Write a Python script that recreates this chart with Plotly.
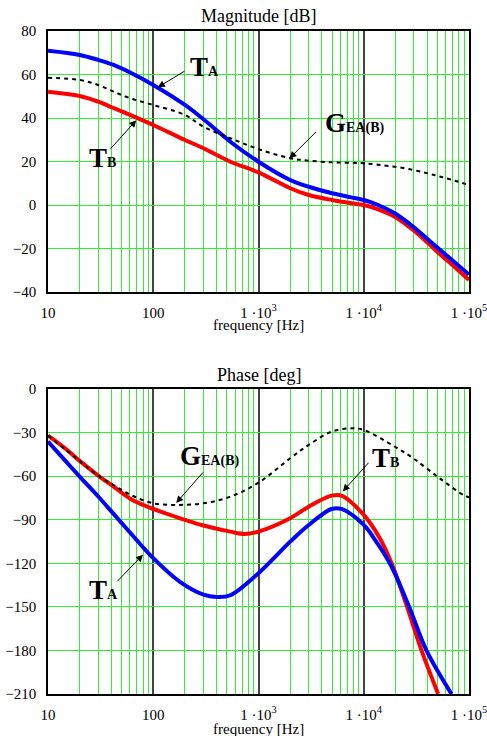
import numpy as np
import plotly.graph_objects as go
from plotly.subplots import make_subplots

# ---------------- data ----------------
freq_m = [10, 20, 30, 42, 61, 100, 200, 300, 540, 1000, 2000, 3000, 5000, 7650, 10000,
          13700, 19700, 29500, 41000, 52700, 73000, 100000]
mag_TA = [70.9, 69.0, 66.7, 64.4, 60.8, 55.2, 46.0, 39.4, 29.1, 19.9, 11.5, 8.4, 5.4, 3.5, 2.3,
          0.0, -3.8, -10.0, -16.0, -20.5, -26.3, -32.0]
mag_TB = [52.1, 50.1, 47.5, 44.6, 41.3, 36.8, 29.9, 26.1, 19.9, 15.0, 7.7, 4.6, 2.3, 0.8, 0.0,
          -2.0, -5.4, -11.5, -17.6, -22.5, -28.5, -34.5]
mag_G = [58.5, 57.5, 55.2, 52.1, 49.0, 46.0, 41.4, 36.0, 30.7, 25.7, 21.5, 20.4, 19.6, 19.4, 19.2,
         18.5, 17.6, 16.1, 14.5, 13.1, 11.2, 9.2]

freq_pB = [10, 14.5, 20, 30, 42, 61, 100, 200, 300, 540, 743, 1000, 2000, 3000, 4940, 6150,
           10000, 14200, 18400, 25800, 35400, 50900]
ph_TB = [-32.1, -40.8, -49.5, -59.6, -67.2, -75.7, -82.6, -90.1, -94.0, -98.2, -99.8, -98.2,
         -89.0, -81.0, -73.4, -73.4, -86.7, -102.7, -120.0, -150.0, -180.0, -210.0]

freq_pA = [10, 14.5, 20, 30, 42, 61, 100, 178, 300, 400, 540, 1000, 2000, 3000, 4940, 6150,
           10000, 12700, 17700, 27000, 39400, 68200]
ph_TA = [-36.2, -49.2, -60.3, -74.0, -86.0, -99.3, -116.5, -132.6, -141.6, -143.2, -142.0,
         -126.8, -105.1, -93.6, -82.6, -82.6, -93.6, -103.5, -120.0, -150.0, -180.0, -210.0]

freq_pG = [10, 20, 30, 42, 61, 100, 178, 300, 540, 1000, 2000, 3000, 4940, 7650, 10000,
           19700, 29500, 52700, 88000, 100000]
ph_G = [-32.1, -49.5, -59.6, -66.1, -72.9, -78.7, -79.8, -78.7, -74.1, -64.5, -47.7, -38.5,
        -29.4, -27.1, -28.2, -39.7, -47.7, -61.5, -72.9, -74.5]

major_x = [10, 100, 1000, 10000, 100000]
major_x_text = ["10", "100", "1 \u00b710<sup>3</sup>", "1 \u00b710<sup>4</sup>", "1 \u00b710<sup>5</sup>"]
minor_x = [m * d for d in [10, 100, 1000, 10000] for m in range(2, 10)]
mag_ticks = [-40, -20, 0, 20, 40, 60, 80]
ph_ticks = [-210, -180, -150, -120, -90, -60, -30, 0]

FONT = "Liberation Serif"
BLUE = "#0000ff"
RED = "#ff0000"
GREEN = "#33ee33"

H = 736
fig = make_subplots(rows=2, cols=1)

def add_set(row, fr, tb, fa, ta, fg, g):
    fig.add_trace(go.Scatter(x=fr, y=tb, mode="lines",
                             line=dict(color=RED, width=4, shape="spline", smoothing=1.0),
                             showlegend=False), row=row, col=1)
    fig.add_trace(go.Scatter(x=fa, y=ta, mode="lines",
                             line=dict(color=BLUE, width=4, shape="spline", smoothing=1.0),
                             showlegend=False), row=row, col=1)
    fig.add_trace(go.Scatter(x=fg, y=g, mode="lines",
                             line=dict(color="black", width=2, dash="4px,4px", shape="spline", smoothing=1.0),
                             showlegend=False), row=row, col=1)

add_set(1, freq_m, mag_TB, freq_m, mag_TA, freq_m, mag_G)
add_set(2, freq_pB, ph_TB, freq_pA, ph_TA, freq_pG, ph_G)

fig.update_xaxes(type="log", range=[1, 5], tickvals=major_x, ticktext=major_x_text,
                 showgrid=True, gridcolor="#444444", gridwidth=1.5,
                 minor=dict(tickvals=minor_x, showgrid=True, gridcolor=GREEN, gridwidth=1, ticklen=0),
                 showline=True, mirror=True, linecolor="black", linewidth=1.5,
                 ticks="", ticklabelstandoff=6, automargin=False, ticklabeloverflow="allow",
                 tickfont=dict(family=FONT, size=15, color="black"), zeroline=False)
fig.update_yaxes(showgrid=True, gridcolor=GREEN, gridwidth=1, showline=True, mirror=True,
                 linecolor="black", linewidth=1.5, ticks="", ticklabelstandoff=7, zeroline=False,
                 automargin=False, ticklabeloverflow="allow",
                 tickfont=dict(family=FONT, size=15, color="black"))
fig.update_yaxes(range=[-40, 80], tickvals=mag_ticks,
                 ticktext=[str(t).replace("-", "\u2212") for t in mag_ticks], row=1, col=1)
fig.update_yaxes(range=[-210, 0], tickvals=ph_ticks,
                 ticktext=[str(t).replace("-", "\u2212") for t in ph_ticks], row=2, col=1)

fig.update_layout(
    width=487, height=H, margin=dict(l=48, r=18, t=0, b=0, autoexpand=False),
    paper_bgcolor="white", plot_bgcolor="white",
    xaxis=dict(domain=[0, 1]), xaxis2=dict(domain=[0, 1]),
    yaxis=dict(domain=[1 - 292 / H, 1 - 31 / H]),
    yaxis2=dict(domain=[1 - 694 / H, 1 - 389 / H]),
)

ann = []
for txt, ypix, sz in [("Magnitude [dB]", 16, 18), ("Phase [deg]", 375, 18),
                      ("frequency [Hz]", 325, 15), ("frequency [Hz]", 729, 15)]:
    ann.append(dict(text=txt, xref="paper", yref="paper", x=0.5, y=1 - ypix / H,
                    showarrow=False, xanchor="center", yanchor="middle",
                    font=dict(family=FONT, size=sz, color="black")))

def lab(main, sub):
    return "<b>%s<span style='font-size:14px'>%s</span></b>" % (main, sub)

labels = [
    ("x", "y", 10 ** 2.329, 63.6, lab("T", "A")),
    ("x", "y", 10 ** 3.611, 37.5, lab("G", "EA(B)")),
    ("x", "y", 10 ** 1.370, 21.4, lab("T", "B")),
    ("x2", "y2", 10 ** 2.234, -46.4, lab("G", "EA(B)")),
    ("x2", "y2", 10 ** 4.060, -47.5, lab("T", "B")),
    ("x2", "y2", 10 ** 1.370, -138.2, lab("T", "A")),
]
for xr, yr, f, v, t in labels:
    ann.append(dict(text=t, xref=xr, yref=yr, x=np.log10(f), y=v, showarrow=False,
                    xanchor="left", yanchor="middle",
                    font=dict(family=FONT, size=27, color="black")))

arrows = [
    ("x", "y", 10 ** 2.044, 54.1, 28, -17),
    ("x", "y", 10 ** 3.294, 21.4, 28, -28),
    ("x", "y", 10 ** 1.839, 39.0, -27, 30),
    ("x2", "y2", 10 ** 2.218, -78.5, 28, -32),
    ("x2", "y2", 10 ** 3.801, -70.5, 27, -30),
    ("x2", "y2", 10 ** 1.902, -114.1, -27, 28),
]
for xr, yr, f, v, dx, dy in arrows:
    ann.append(dict(text="", xref=xr, yref=yr, x=np.log10(f), y=v, showarrow=True,
                    ax=dx, ay=dy, arrowhead=2, arrowsize=1.4, arrowwidth=1, arrowcolor="black"))

fig.update_layout(annotations=ann)
fig.write_html("out.html", config={"displayModeBar": False},
               post_script="document.body.style.margin='0px';")
